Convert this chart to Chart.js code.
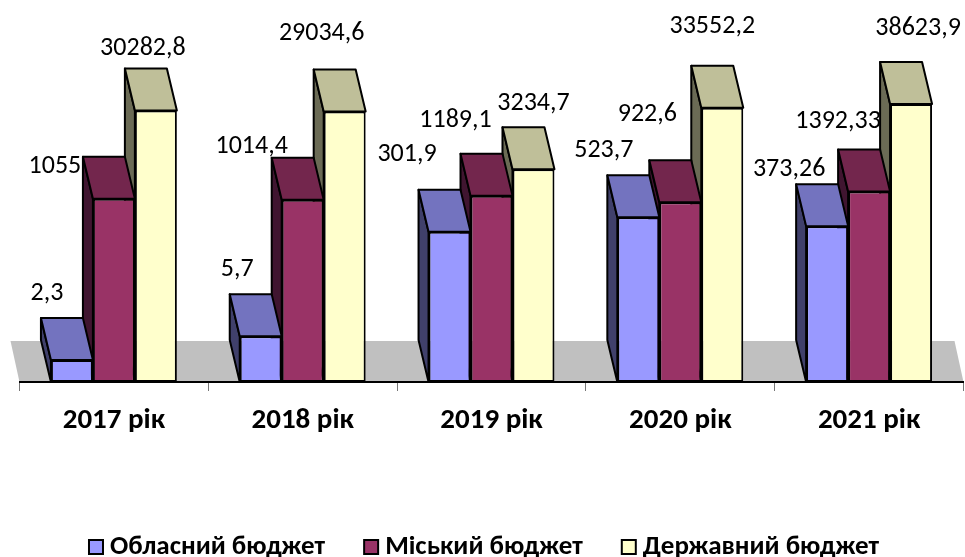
<!DOCTYPE html>
<html><head><meta charset="utf-8">
<style>html,body{margin:0;padding:0;background:#fff}canvas{display:block}</style>
<script src="https://cdn.jsdelivr.net/npm/chart.js@4"></script>
</head><body><canvas id="c" width="965" height="557"></canvas>
<script>
const categories = ['2017 рік','2018 рік','2019 рік','2020 рік','2021 рік'];
const oblast = [2.3, 5.7, 301.9, 523.7, 373.26];
const misky = [1055, 1014.4, 1189.1, 922.6, 1392.33];
const derzhavny = [30282.8, 29034.6, 3234.7, 33552.2, 38623.9];
const seriesNames = ['Обласний бюджет','Міський бюджет','Державний бюджет'];
const FONT = 'Carlito, Calibri, Lato, "Noto Sans", sans-serif';
const DX = -10, DY = -42;
const offsets = [
  [[-25,-67],[-23.5,-67],[-42.5,-77],[-34.5,-67],[-38,-57]],
  [[-59,-32],[-51,-53],[-36,-75],[-33,-88],[-31,-70]],
  [[-13,-62],[-23,-78],[0,-66],[-10,-81],[7,-76]]
];
const faces = [
  {top:'#7373BF', side:'#40406B'},
  {top:'#73264D', side:'#401530'},
  {top:'#BFBF99', side:'#6B6B55'}
];
function poly(ctx, pts, fill){
  ctx.beginPath();
  pts.forEach((p,i)=> i?ctx.lineTo(p[0],p[1]):ctx.moveTo(p[0],p[1]));
  ctx.closePath();
  ctx.fillStyle=fill; ctx.fill();
  ctx.strokeStyle='#000'; ctx.lineWidth=2; ctx.lineJoin='round'; ctx.stroke();
}
const bar3d = {
  id:'bar3d',
  beforeDatasetsDraw(chart){
    const {ctx, chartArea:a} = chart;
    ctx.save();
    ctx.beginPath();
    ctx.moveTo(a.left,a.bottom); ctx.lineTo(a.left+DX+1,a.bottom+DY+1);
    ctx.lineTo(a.right+DX+1,a.bottom+DY+1); ctx.lineTo(a.right,a.bottom); ctx.closePath();
    ctx.fillStyle='#C0C0C0'; ctx.fill();
    ctx.restore();
  },
  beforeDatasetDraw(chart,args){
    const {ctx} = chart;
    const f = faces[args.index];
    ctx.save();
    args.meta.data.forEach(el=>{
      const l=el.x-el.width/2, r=el.x+el.width/2, t=el.y, b=el.base;
      poly(ctx,[[l,b],[l+DX,b+DY],[l+DX,t+DY],[l,t]],f.side);
      poly(ctx,[[l,t],[l+DX,t+DY],[r+DX,t+DY],[r,t]],f.top);
    });
    ctx.restore();
  },
  afterDatasetsDraw(chart){
    const {ctx} = chart;
    ctx.save();
    ctx.font='26px '+FONT; ctx.fillStyle='#000';
    ctx.textAlign='center'; ctx.textBaseline='middle';
    chart.data.datasets.forEach((ds,i)=>{
      chart.getDatasetMeta(i).data.forEach((el,j)=>{
        const o=offsets[i][j];
        ctx.fillText(String(ds.data[j]).replace('.',','), el.x+o[0], el.y+o[1]);
      });
    });
    ctx.restore();
  },
  afterDraw(chart){
    const {ctx,width} = chart;
    const box=14, gapText=7, gapItem=39, y=547;
    ctx.save();
    ctx.font='bold 27px '+FONT; ctx.textBaseline='middle'; ctx.textAlign='left';
    const items=chart.data.datasets.map(d=>({t:d.label,c:d.backgroundColor,w:ctx.measureText(d.label).width}));
    const total=items.reduce((s,it)=>s+box+gapText+it.w,0)+gapItem*(items.length-1);
    let x=(width-total)/2+1.5;
    items.forEach(it=>{
      ctx.fillStyle=it.c; ctx.fillRect(x,y-7,box,box);
      ctx.strokeStyle='#000'; ctx.lineWidth=2; ctx.strokeRect(x,y-7,box,box);
      ctx.fillStyle='#000'; ctx.fillText(it.t,x+box+gapText,y);
      x+=box+gapText+it.w+gapItem;
    });
    ctx.restore();
  }
};
const mk=(label,data,color)=>({label,data,backgroundColor:color,borderColor:'#000',borderWidth:2,borderSkipped:false,barPercentage:1,categoryPercentage:0.667});
new Chart(document.getElementById('c'),{
  type:'bar',
  data:{labels:categories,datasets:[mk(seriesNames[0],oblast,'#9999FF'),mk(seriesNames[1],misky,'#993366'),mk(seriesNames[2],derzhavny,'#FFFFCC')]},
  options:{
    responsive:false,animation:false,
    layout:{padding:{left:19.5,right:1.5,top:79,bottom:0}},
    plugins:{tooltip:{enabled:false},legend:{display:false}},
    scales:{
      y:{type:'logarithmic',min:1,max:100000,display:false},
      x:{
        border:{color:'#000',width:2,z:1},
        grid:{offset:true,drawOnChartArea:false,drawTicks:true,tickLength:9,color:'#777',lineWidth:1},
        ticks:{color:'#000',maxRotation:0,padding:12,font:{family:FONT,size:29,weight:'bold'}},
        afterFit(s){s.height=175;}
      }
    }
  },
  plugins:[bar3d]
});
</script></body></html>
